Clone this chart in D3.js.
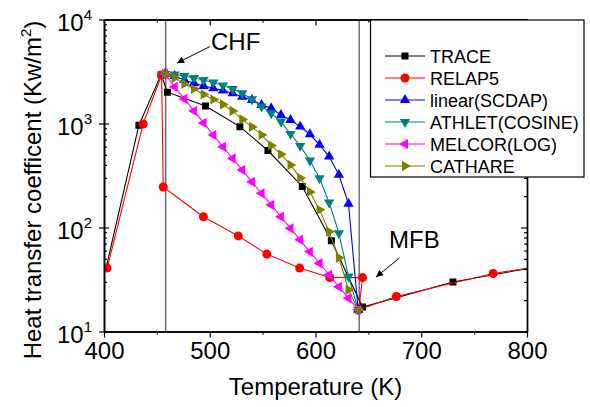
<!DOCTYPE html>
<html>
<head>
<meta charset="utf-8">
<script src="https://cdn.jsdelivr.net/npm/d3@7"></script>
<style>
  html, body { margin: 0; padding: 0; background: #fff; }
  svg { display: block; font-family: "Liberation Sans", Arial, sans-serif; }
</style>
</head>
<body>
<svg id="chart" width="590" height="407"></svg>
<script>
// ---- data ----
const seriesNames = ["TRACE", "RELAP5", "linear(SCDAP)", "ATHLET(COSINE)", "MELCOR(LOG)", "CATHARE"];
const xTicks = [400, 500, 600, 700, 800];
const xMinorTicks = [450, 550, 650, 750];
const yTicks = [10, 100, 1000, 10000];
const yTickExp = ["1", "2", "3", "4"];

const traceT = [402, 433, 454, 460, 496, 528.5, 555, 587.5, 615, 644.5, 730, 810];
const traceH = [41, 964, 2950, 2000, 1476, 933, 550, 248, 74.5, 17.2, 29.9, 42];

const relapT = [403, 437, 454.5, 456, 494, 527, 554, 585, 613.5, 644.5, 641, 676.5, 768, 810];
const relapH = [40.7, 990, 2930, 245, 127, 83, 55.5, 40.7, 33.1, 33, 16.2, 21.7, 36.1, 42];

// transition-boiling models share one temperature grid between CHF and MFB
const modelT = [457.7, 466.8, 476.0, 485.1, 494.2, 503.4, 512.5, 521.6, 530.7, 539.9, 549.0,
                558.1, 567.3, 576.4, 585.5, 594.7, 603.8, 612.9, 622.1, 631.2, 640.3];
const linearH = [3000, 2866, 2624, 2438, 2296, 2182, 2070, 1954, 1812, 1686, 1509,
                 1403, 1206, 1080, 933, 788, 624, 481, 321, 169, 16.2];
const athletH = [3000, 2963, 2866, 2742, 2623, 2482, 2323, 2150, 1955, 1712, 1460,
                 1256, 1043, 795, 609, 440, 298, 174, 88.3, 33.8, 16.2];
const melcorH = [3000, 2247, 1723, 1321, 1013, 777, 596, 462, 358, 275, 213,
                 165, 127, 98.2, 76.2, 58.4, 45.3, 35.1, 26.9, 20.9, 16.2];
const cathareH = [3000, 2742, 2401, 2150, 1903, 1704, 1526, 1321, 1095, 927, 777,
                  616, 505, 400, 300, 220, 148, 91, 51.2, 25.2, 16.2];

const chfT = 458.3;
const mfbT = 641.3;

// ---- layout ----
const plotL = 104, plotR = 527, plotT = 19.5, plotB = 331.5;
const svg = d3.select("#chart");
const x = d3.scaleLinear().domain([400, 800]).range([plotL, plotR]);
const y = d3.scaleLog().domain([10, 10000]).range([plotB, plotT]);

const styles = [
  { color: "#000000", shape: "square",   rot: 0 },
  { color: "#ff0000", shape: "circle",   rot: 0 },
  { color: "#0000ff", shape: "triangle", rot: 0 },
  { color: "#008080", shape: "triangle", rot: 180 },
  { color: "#ff00ff", shape: "triangle", rot: 270 },
  { color: "#808000", shape: "triangle", rot: 90 }
];
const series = [
  { t: traceT, h: traceH },
  { t: relapT, h: relapH },
  { t: modelT, h: linearH },
  { t: modelT, h: athletH },
  { t: modelT, h: melcorH },
  { t: modelT, h: cathareH }
];

function symbolPath(shape) {
  if (shape === "square") return d3.symbol().type(d3.symbolSquare).size(49)();
  if (shape === "circle") return d3.symbol().type(d3.symbolCircle).size(64)();
  return d3.symbol().type(d3.symbolTriangle).size(46)();
}

const defs = svg.append("defs");
defs.append("clipPath").attr("id", "plotClip")
  .append("rect").attr("x", plotL).attr("y", plotT - 6)
  .attr("width", plotR - plotL).attr("height", plotB - plotT + 12);

// ---- CHF / MFB reference lines ----
svg.append("line").attr("x1", x(chfT)).attr("x2", x(chfT))
  .attr("y1", plotT).attr("y2", plotB)
  .attr("stroke", "#707070").attr("stroke-width", 1.6);
svg.append("line").attr("x1", x(mfbT)).attr("x2", x(mfbT))
  .attr("y1", plotT).attr("y2", plotB)
  .attr("stroke", "#404040").attr("stroke-width", 1.1);

// ---- series ----
const plot = svg.append("g").attr("clip-path", "url(#plotClip)");
const line = d3.line().x(d => x(d[0])).y(d => y(d[1]));
series.forEach((s, i) => {
  const pts = s.t.map((t, k) => [t, s.h[k]]);
  const st = styles[i];
  plot.append("path").datum(pts)
    .attr("d", line).attr("fill", "none")
    .attr("stroke", st.color).attr("stroke-width", 1.1);
  plot.selectAll(null).data(pts).enter().append("path")
    .attr("d", symbolPath(st.shape))
    .attr("transform", d => `translate(${x(d[0])},${y(d[1])}) rotate(${st.rot})`)
    .attr("fill", st.color);
});

// ---- axes ----
function styleAxis(g) {
  g.selectAll("path.domain").attr("stroke", "#000").attr("stroke-width", 1.4);
  g.selectAll(".tick line").attr("stroke", "#000").attr("stroke-width", 1.2);
}
const yMinor = [];
[10, 100, 1000].forEach(b => { for (let m = 2; m <= 9; m++) yMinor.push(b * m); });

// bottom
const gB = svg.append("g").attr("transform", `translate(0,${plotB})`)
  .call(d3.axisBottom(x).tickValues(xTicks).tickSize(6).tickSizeOuter(0).tickPadding(4)
        .tickFormat(d3.format("d")));
gB.selectAll("text").attr("font-size", 24).attr("fill", "#000")
  .attr("font-family", "Liberation Sans, Arial, sans-serif");
styleAxis(gB);
const gBm = svg.append("g").attr("transform", `translate(0,${plotB})`)
  .call(d3.axisBottom(x).tickValues(xMinorTicks).tickSize(3).tickSizeOuter(0).tickFormat(""));
styleAxis(gBm);

// top (mirror, ticks inward)
const gT = svg.append("g").attr("transform", `translate(0,${plotT})`)
  .call(d3.axisBottom(x).tickValues(xTicks).tickSize(6).tickSizeOuter(0).tickFormat(""));
styleAxis(gT);
const gTm = svg.append("g").attr("transform", `translate(0,${plotT})`)
  .call(d3.axisBottom(x).tickValues(xMinorTicks).tickSize(3).tickSizeOuter(0).tickFormat(""));
styleAxis(gTm);

// left
const gL = svg.append("g").attr("transform", `translate(${plotL},0)`)
  .call(d3.axisLeft(y).tickValues(yTicks).tickSize(5).tickSizeOuter(0).tickPadding(7));
gL.selectAll(".tick text").each(function(d, i) {
  const t = d3.select(this);
  t.text(null).attr("dy", 10.5).attr("fill", "#000")
    .attr("font-size", 24).attr("font-family", "Liberation Sans, Arial, sans-serif");
  t.append("tspan").text("10");
  t.append("tspan").attr("dy", -10.5).attr("font-size", 15).text(yTickExp[i]);
});
styleAxis(gL);
const gLi = svg.append("g").attr("transform", `translate(${plotL},0)`)
  .call(d3.axisRight(y).tickValues(yTicks).tickSize(5).tickSizeOuter(0).tickFormat(""));
styleAxis(gLi);
const gLm = svg.append("g").attr("transform", `translate(${plotL},0)`)
  .call(d3.axisRight(y).tickValues(yMinor).tickSize(3).tickSizeOuter(0).tickFormat(""));
styleAxis(gLm);

// right (mirror, ticks inward)
const gR = svg.append("g").attr("transform", `translate(${plotR},0)`)
  .call(d3.axisLeft(y).tickValues(yTicks).tickSize(6).tickSizeOuter(0).tickFormat(""));
styleAxis(gR);
const gRm = svg.append("g").attr("transform", `translate(${plotR},0)`)
  .call(d3.axisLeft(y).tickValues(yMinor).tickSize(3).tickSizeOuter(0).tickFormat(""));
styleAxis(gRm);

// ---- axis titles ----
svg.append("text").attr("x", (plotL + plotR) / 2).attr("y", 395)
  .attr("text-anchor", "middle").attr("font-size", 24).attr("fill", "#000")
  .text("Temperature (K)");
const yt = svg.append("text").attr("transform", "translate(41,190) rotate(-90)")
  .attr("text-anchor", "middle").attr("font-size", 24).attr("fill", "#000");
yt.append("tspan").text("Heat transfer coefficent (Kw/m");
yt.append("tspan").attr("dy", -10).attr("font-size", 15).text("2");
yt.append("tspan").attr("dy", 10).text(")");

// ---- annotations ----
defs.append("marker").attr("id", "arrowHead").attr("viewBox", "0 0 10 10")
  .attr("refX", 10).attr("refY", 5).attr("markerWidth", 9).attr("markerHeight", 7)
  .attr("markerUnits", "userSpaceOnUse").attr("orient", "auto")
  .append("path").attr("d", "M0,0 L10,5 L0,10 Z").attr("fill", "#000");

svg.append("text").attr("x", 211).attr("y", 50).attr("font-size", 24).attr("fill", "#000").text("CHF");
svg.append("line").attr("x1", 210).attr("y1", 46.5).attr("x2", 177).attr("y2", 63)
  .attr("stroke", "#000").attr("stroke-width", 1).attr("marker-end", "url(#arrowHead)");

svg.append("text").attr("x", 389).attr("y", 248).attr("font-size", 24).attr("fill", "#000").text("MFB");
svg.append("line").attr("x1", 399.5).attr("y1", 258).attr("x2", 376).attr("y2", 277)
  .attr("stroke", "#000").attr("stroke-width", 1).attr("marker-end", "url(#arrowHead)");

// ---- legend ----
const lg = svg.append("g");
lg.append("rect").attr("x", 370.5).attr("y", 20).attr("width", 213.5).attr("height", 157)
  .attr("fill", "#fff").attr("stroke", "#000").attr("stroke-width", 1.2);
seriesNames.forEach((name, i) => {
  const cy = 56 + 22 * i;
  const st = styles[i];
  lg.append("line").attr("x1", 385).attr("x2", 425).attr("y1", cy).attr("y2", cy)
    .attr("stroke", st.color).attr("stroke-width", 1.1);
  lg.append("path").attr("d", symbolPath(st.shape))
    .attr("transform", `translate(405,${cy}) rotate(${st.rot})`).attr("fill", st.color);
  lg.append("text").attr("x", 430).attr("y", cy + 7).attr("font-size", 18)
    .attr("fill", "#000").text(name);
});
</script>
</body>
</html>
